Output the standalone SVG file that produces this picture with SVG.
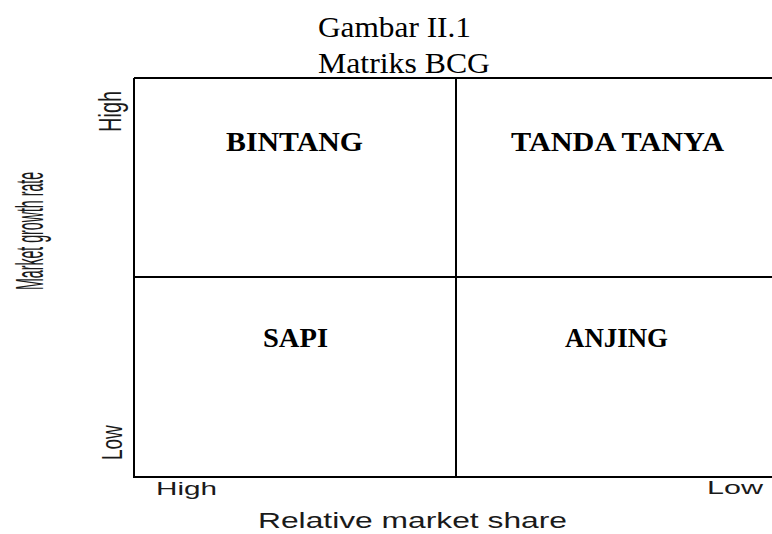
<svg xmlns="http://www.w3.org/2000/svg" width="772" height="534" viewBox="0 0 772 534">
<style>
.t{font-family:"Liberation Serif","Times New Roman",serif;fill:#000}
.q{font-family:"Liberation Serif","Times New Roman",serif;font-weight:bold;font-size:28px;fill:#000}
.s{font-family:"Liberation Sans",Arial,sans-serif;fill:#1a1a1a}
.ln{stroke:#000;stroke-width:2;fill:none}
</style>
<rect width="772" height="534" fill="#fff"/>
<g id="title">
<text class="t" x="318" y="37" font-size="30" textLength="153" lengthAdjust="spacingAndGlyphs">Gambar II.1</text>
<text class="t" x="318" y="73" font-size="30" textLength="172" lengthAdjust="spacingAndGlyphs">Matriks BCG</text>
</g>
<g id="grid">
<path class="ln" d="M134,78 H772 M134,78 V477 H772 M456,78 V477 M134,277 H772"/>
</g>
<g id="q-bintang"><text class="q" x="226" y="151" textLength="137" lengthAdjust="spacingAndGlyphs">BINTANG</text></g>
<g id="q-tanda"><text class="q" x="511" y="151" textLength="213" lengthAdjust="spacingAndGlyphs">TANDA TANYA</text></g>
<g id="q-sapi"><text class="q" x="263" y="347" textLength="65" lengthAdjust="spacingAndGlyphs">SAPI</text></g>
<g id="q-anjing"><text class="q" x="565" y="347" textLength="103" lengthAdjust="spacingAndGlyphs">ANJING</text></g>
<g id="y-axis">
<text class="s" font-size="38" transform="translate(43,290) rotate(-90) scale(0.373,1)">Market growth rate</text>
<text class="s" font-size="20" transform="translate(121,132) scale(1.6,1) rotate(-90)">High</text>
<text class="s" font-size="19" transform="translate(122,460) scale(1.6,1) rotate(-90)">Low</text>
</g>
<g id="x-axis">
<text class="s" x="156" y="495" font-size="18" textLength="61" lengthAdjust="spacingAndGlyphs">High</text>
<text class="s" x="707" y="494" font-size="18" textLength="56" lengthAdjust="spacingAndGlyphs">Low</text>
<text class="s" x="258" y="528" font-size="22" textLength="309" lengthAdjust="spacingAndGlyphs">Relative market share</text>
</g>
</svg>
